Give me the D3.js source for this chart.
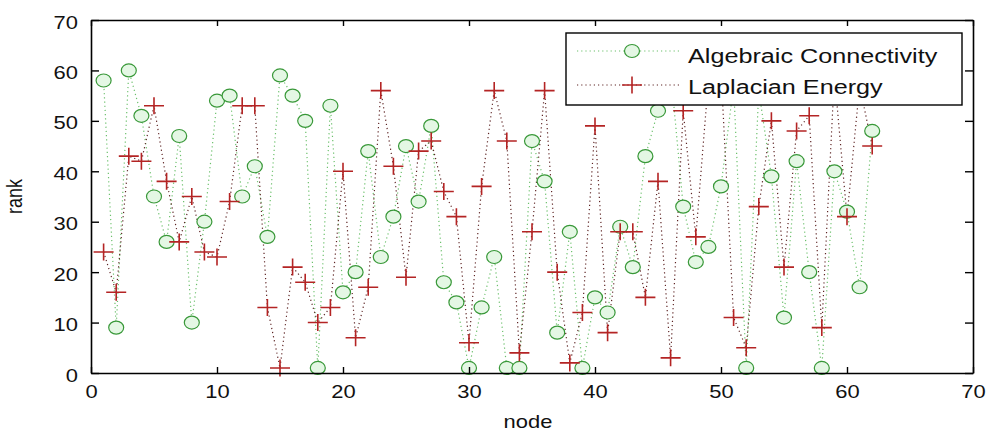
<!DOCTYPE html>
<html>
<head>
<meta charset="utf-8">
<script src="https://cdn.jsdelivr.net/npm/d3@7"></script>
<style>
  html, body { margin: 0; padding: 0; background: #fff; }
  svg { display: block; }
  text { font-family: "Liberation Sans", Arial, sans-serif; fill: #111; }
</style>
</head>
<body>
<svg id="chart" width="991" height="432"></svg>
<script>
// ---- data ----
const nodes = [1,2,3,4,5,6,7,8,9,10,11,12,13,14,15,16,17,18,19,20,21,22,23,24,25,26,27,28,29,30,31,32,33,34,35,36,37,38,39,40,41,42,43,44,45,46,47,48,49,50,51,52,53,54,55,56,57,58,59,60,61,62];
const algebraicConnectivity = [58,9,60,51,35,26,47,10,30,54, 55,35,41,27,59,55,50,1,53,16, 20,44,23,31,45,34,49,18,14,1, 13,23,1,1,46,38,8,28,1,15, 12,29,21,43,52,60,33,22,25,37, 57,1,56,39,11,42,20,1,40,32, 17,48];
const laplacianEnergy = [24,16,43,42,53,38,26,35,24,23, 34,53,53,13,1,21,18,10,13,40, 7,17,56,41,19,44,46,36,31,6, 37,56,46,4,28,56,20,2,12,49, 8,28,28,15,38,3,52,27,58,60, 11,5,33,50,21,48,51,9,59,31, 57,45];
const xTicks = [0,10,20,30,40,50,60,70];
const yTicks = [0,10,20,30,40,50,60,70];
const seriesNames = ["Algebraic Connectivity", "Laplacian Energy"];
const xLabel = "node";
const yLabel = "rank";

// ---- layout ----
const svg = d3.select("#chart");
const L = 91, R = 973, T = 20, B = 373;
const SX = 1.22; // horizontal stretch of the reference image
const x = d3.scaleLinear().domain([0, 70]).range([L, R]);
const y = d3.scaleLinear().domain([0, 70]).range([B, T]);

const green = { line: "#6cc06c", stroke: "#389838", fill: "#e4f7e4" };
const red = { line: "#5e2424", stroke: "#b42424" };

const plot = svg.append("g");

// dotted lines
const lineGen = vals => d3.line().x((d, i) => x(nodes[i])).y(d => y(d))(vals);
plot.append("path").attr("d", lineGen(algebraicConnectivity))
  .attr("fill", "none").attr("stroke", green.line).attr("stroke-width", 1.2)
  .attr("stroke-dasharray", "1.2,3");
plot.append("path").attr("d", lineGen(laplacianEnergy))
  .attr("fill", "none").attr("stroke", red.line).attr("stroke-width", 1.2)
  .attr("stroke-dasharray", "1.2,3");

// markers
function drawCircle(g, cx, cy) {
  g.append("ellipse").attr("cx", cx).attr("cy", cy).attr("rx", 7.5).attr("ry", 6.5)
    .attr("fill", green.fill).attr("stroke", green.stroke).attr("stroke-width", 1.2);
}
function drawPlus(g, cx, cy) {
  g.append("path").attr("d", `M${cx-10},${cy}H${cx+10}M${cx},${cy-8.5}V${cy+8.5}`)
    .attr("stroke", red.stroke).attr("stroke-width", 1.6).attr("fill", "none");
}
const gc = plot.append("g");
algebraicConnectivity.forEach((v, i) => drawCircle(gc, x(nodes[i]), y(v)));
const gp = plot.append("g");
laplacianEnergy.forEach((v, i) => drawPlus(gp, x(nodes[i]), y(v)));

// ---- axes ----
function styleAxis(g) {
  g.selectAll("path.domain").attr("stroke", "#000").attr("stroke-width", 1.6);
  g.selectAll(".tick line").attr("stroke", "#000").attr("stroke-width", 1.4);
  g.selectAll("text").style("font-size", "18px").attr("fill", "#111")
    .style("font-family", '"Liberation Sans", Arial, sans-serif');
}
const xAxis = svg.append("g").attr("transform", `translate(0,${B})`)
  .call(d3.axisBottom(x).tickValues(xTicks).tickSize(-6).tickSizeOuter(0).tickFormat(d3.format("d")));
styleAxis(xAxis);
xAxis.selectAll("text").attr("y", 25).attr("dy", 0).attr("transform", `scale(${SX},1)`);

const xTop = svg.append("g").attr("transform", `translate(0,${T})`)
  .call(d3.axisTop(x).tickValues(xTicks).tickSize(-6).tickSizeOuter(0).tickFormat(""));
styleAxis(xTop);

const yAxis = svg.append("g").attr("transform", `translate(${L},0)`)
  .call(d3.axisLeft(y).tickValues(yTicks).tickSize(-8).tickSizeOuter(0).tickFormat(d3.format("d")));
styleAxis(yAxis);
yAxis.selectAll("text").attr("x", -13 / SX).attr("y", 8).attr("dy", 0).attr("transform", `scale(${SX},1)`);

const yRight = svg.append("g").attr("transform", `translate(${R},0)`)
  .call(d3.axisRight(y).tickValues(yTicks).tickSize(-8).tickSizeOuter(0).tickFormat(""));
styleAxis(yRight);

// axis labels
svg.append("text").attr("transform", `translate(${(L + R) / 2 - 4},428) scale(${SX},1)`)
  .attr("text-anchor", "middle").style("font-size", "18px").text(xLabel);
svg.append("text").attr("transform", `translate(22,${(T + B) / 2}) rotate(-90) scale(1,${SX})`)
  .attr("text-anchor", "middle").style("font-size", "18px").text(yLabel);

// ---- legend ----
const lg = svg.append("g");
lg.append("rect").attr("x", 566).attr("y", 33).attr("width", 396).attr("height", 72)
  .attr("fill", "#fff").attr("stroke", "#000").attr("stroke-width", 1.4);
const rows = [
  { name: seriesNames[0], c: green.line, y: 51, ty: 63, mark: "circle" },
  { name: seriesNames[1], c: red.line, y: 85, ty: 94, mark: "plus" }
];
rows.forEach(r => {
  lg.append("line").attr("x1", 577).attr("x2", 682).attr("y1", r.y).attr("y2", r.y)
    .attr("stroke", r.c).attr("stroke-width", 1.2).attr("stroke-dasharray", "1.2,3");
  if (r.mark === "circle") drawCircle(lg, 632, r.y); else drawPlus(lg, 632, r.y);
  lg.append("text").attr("transform", `translate(688,${r.ty}) scale(1.2,1)`)
    .style("font-size", "21px").text(r.name);
});
</script>
</body>
</html>
